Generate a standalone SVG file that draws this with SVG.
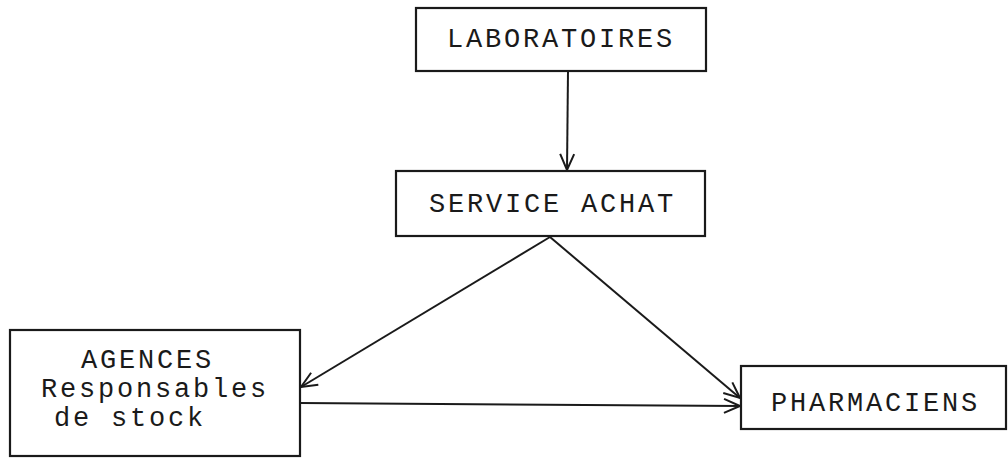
<svg xmlns="http://www.w3.org/2000/svg" width="1008" height="459" viewBox="0 0 1008 459">
<style>
.box{fill:#fff;stroke:#1a1a1a;stroke-width:2.2}
.lbl{font-family:"Liberation Mono","Courier New",monospace;font-size:27px;letter-spacing:2.8px;fill:#1a1a1a}
.edge{fill:none;stroke:#1a1a1a;stroke-width:2}
</style>
<defs>
<marker id="arr" viewBox="0 0 20 20" refX="18" refY="10" markerWidth="20" markerHeight="20" markerUnits="userSpaceOnUse" orient="auto">
<path d="M2,3 L18,10 L2,17" fill="none" stroke="#1a1a1a" stroke-width="2"/>
</marker>
</defs>
<rect width="1008" height="459" fill="#fff"/>
<g id="connectors">
<line class="edge" x1="568" y1="71" x2="567" y2="170" marker-end="url(#arr)"/>
<line class="edge" x1="550" y1="237" x2="301" y2="387" marker-end="url(#arr)"/>
<line class="edge" x1="550" y1="237" x2="740" y2="398" marker-end="url(#arr)"/>
<line class="edge" x1="300" y1="403" x2="740" y2="406" marker-end="url(#arr)"/>
</g>
<g id="laboratoires">
<rect class="box" x="416" y="8" width="290" height="63"/>
<text class="lbl" x="447" y="47">LABORATOIRES</text>
</g>
<g id="service-achat">
<rect class="box" x="396" y="171" width="309" height="65"/>
<text class="lbl" x="429" y="212">SERVICE ACHAT</text>
</g>
<g id="agences">
<rect class="box" x="10" y="330" width="290" height="126"/>
<text class="lbl" x="81" y="368">AGENCES</text>
<text class="lbl" x="41" y="397">Responsables</text>
<text class="lbl" x="54" y="426">de stock</text>
</g>
<g id="pharmaciens">
<rect class="box" x="741" y="366" width="265" height="63"/>
<text class="lbl" x="771" y="411">PHARMACIENS</text>
</g>
</svg>
